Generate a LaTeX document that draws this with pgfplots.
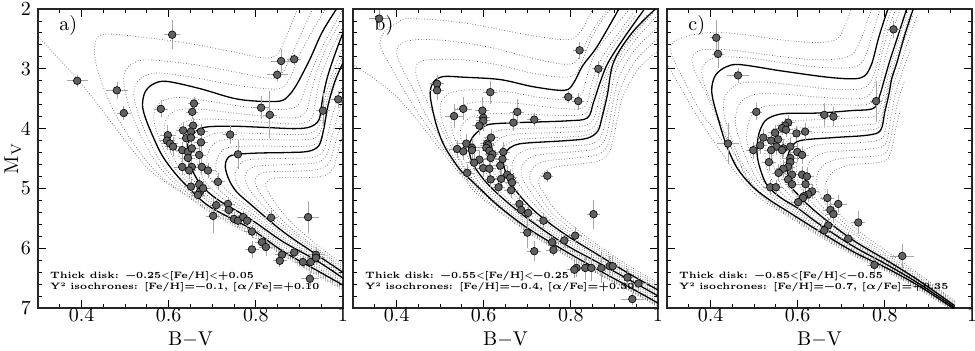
\documentclass[border=0pt]{standalone}
\usepackage{fontspec}
\usepackage{pgfplots}
\pgfplotsset{compat=1.18}
\usepackage{pgfplotstable}

\pgfplotstableread{
x y ex ey
0.390 3.20 0.018 0.06
0.608 2.43 0.012 0.20
0.481 3.36 0.020 0.10
0.497 3.74 0.010 0.08
0.582 3.67 0.010 0.10
0.858 2.87 0.018 0.15
0.849 3.10 0.018 0.06
0.888 2.84 0.010 0.05
0.812 3.65 0.012 0.15
0.832 3.77 0.010 0.35
0.954 3.70 0.010 0.25
0.989 3.51 0.010 0.10
0.741 4.10 0.010 0.12
0.759 4.43 0.010 0.20
0.658 3.58 0.008 0.06
0.654 3.72 0.008 0.08
0.656 3.95 0.008 0.08
0.674 4.05 0.010 0.08
0.633 4.03 0.010 0.10
0.651 4.05 0.010 0.08
0.598 4.11 0.012 0.12
0.640 4.16 0.010 0.10
0.651 4.15 0.010 0.08
0.674 4.23 0.010 0.10
0.596 4.20 0.012 0.12
0.603 4.25 0.012 0.12
0.610 4.30 0.012 0.12
0.631 4.36 0.010 0.10
0.644 4.39 0.010 0.10
0.653 4.33 0.010 0.10
0.670 4.44 0.010 0.10
0.644 4.49 0.010 0.10
0.631 4.64 0.010 0.10
0.653 4.64 0.010 0.10
0.647 4.70 0.010 0.10
0.676 4.64 0.012 0.10
0.690 4.70 0.012 0.08
0.713 4.89 0.010 0.10
0.651 4.97 0.010 0.08
0.670 4.93 0.010 0.08
0.672 5.05 0.010 0.08
0.667 5.11 0.010 0.08
0.679 5.00 0.010 0.08
0.709 5.28 0.010 0.08
0.736 5.26 0.010 0.08
0.738 5.36 0.010 0.08
0.702 5.46 0.010 0.25
0.750 5.51 0.010 0.06
0.759 5.54 0.010 0.06
0.771 5.48 0.010 0.06
0.780 5.54 0.010 0.06
0.791 5.72 0.010 0.06
0.835 5.49 0.010 0.08
0.920 5.48 0.020 0.22
0.814 5.90 0.010 0.06
0.823 5.98 0.010 0.10
0.791 6.02 0.010 0.10
0.860 6.11 0.010 0.06
0.855 6.21 0.010 0.06
0.888 6.07 0.010 0.06
0.908 6.23 0.010 0.06
0.926 6.23 0.010 0.06
0.938 6.11 0.015 0.08
0.938 6.16 0.015 0.08
0.924 6.51 0.015 0.08
}\dataA

\pgfplotstableread{
x y ex ey
0.360 2.16 0.018 0.10
0.493 3.25 0.010 0.10
0.493 3.36 0.010 0.12
0.615 3.39 0.010 0.15
0.820 2.69 0.008 0.10
0.863 3.00 0.008 0.08
0.794 3.47 0.008 0.06
0.817 3.54 0.008 0.10
0.553 3.67 0.015 0.15
0.532 3.79 0.015 0.15
0.597 3.70 0.010 0.18
0.599 3.82 0.010 0.15
0.599 3.87 0.010 0.12
0.590 3.95 0.010 0.12
0.677 3.72 0.010 0.18
0.668 3.90 0.010 0.10
0.716 3.85 0.010 0.06
0.617 4.15 0.010 0.10
0.608 4.25 0.010 0.10
0.610 4.28 0.010 0.10
0.606 4.32 0.010 0.10
0.613 4.37 0.010 0.10
0.620 4.43 0.010 0.10
0.616 4.49 0.010 0.10
0.560 4.25 0.012 0.12
0.573 4.32 0.012 0.12
0.573 4.36 0.012 0.12
0.539 4.34 0.012 0.10
0.553 4.38 0.012 0.10
0.645 4.39 0.010 0.12
0.643 4.51 0.010 0.12
0.638 4.62 0.010 0.10
0.590 4.52 0.012 0.10
0.578 4.57 0.012 0.10
0.599 4.66 0.010 0.10
0.613 4.67 0.010 0.10
0.562 4.74 0.012 0.10
0.654 4.77 0.010 0.10
0.661 4.82 0.010 0.10
0.640 4.84 0.010 0.10
0.616 4.85 0.010 0.10
0.634 4.98 0.010 0.10
0.665 4.90 0.010 0.10
0.663 5.03 0.010 0.08
0.746 4.79 0.008 0.06
0.682 5.26 0.010 0.10
0.686 5.36 0.010 0.08
0.702 5.41 0.010 0.08
0.737 5.54 0.010 0.08
0.700 5.74 0.010 0.22
0.716 6.05 0.010 0.12
0.757 5.90 0.010 0.06
0.760 6.03 0.010 0.06
0.785 5.87 0.010 0.06
0.810 5.79 0.010 0.10
0.852 5.43 0.008 0.20
0.813 6.33 0.010 0.10
0.808 6.36 0.010 0.10
0.833 6.33 0.010 0.15
0.847 6.33 0.010 0.18
0.870 6.33 0.010 0.20
0.889 6.30 0.010 0.12
0.896 6.30 0.010 0.12
0.930 6.49 0.010 0.10
0.955 6.59 0.020 0.10
0.941 6.85 0.020 0.05
}\dataB

\pgfplotstableread{
x y ex ey
0.413 2.48 0.008 0.25
0.417 2.75 0.008 0.20
0.463 3.11 0.020 0.08
0.820 2.34 0.010 0.10
0.505 3.72 0.008 0.10
0.440 4.25 0.020 0.30
0.661 3.77 0.008 0.15
0.682 3.80 0.008 0.12
0.780 3.54 0.008 0.30
0.578 3.90 0.010 0.08
0.571 3.95 0.010 0.08
0.564 3.99 0.010 0.08
0.573 4.02 0.010 0.08
0.548 4.07 0.010 0.08
0.597 4.08 0.010 0.08
0.617 4.05 0.010 0.10
0.521 4.15 0.010 0.10
0.539 4.20 0.010 0.10
0.555 4.18 0.010 0.10
0.514 4.28 0.010 0.10
0.498 4.36 0.010 0.10
0.551 4.30 0.010 0.10
0.567 4.33 0.010 0.10
0.583 4.30 0.010 0.10
0.539 4.36 0.010 0.10
0.564 4.36 0.010 0.10
0.599 4.39 0.010 0.10
0.610 4.44 0.010 0.10
0.583 4.49 0.010 0.10
0.534 4.56 0.010 0.10
0.583 4.56 0.010 0.10
0.578 4.64 0.010 0.10
0.567 4.67 0.010 0.10
0.556 4.74 0.010 0.10
0.587 4.77 0.010 0.10
0.610 4.77 0.010 0.10
0.621 4.80 0.010 0.10
0.578 4.85 0.010 0.10
0.587 4.93 0.010 0.10
0.618 4.93 0.010 0.10
0.537 4.98 0.010 0.08
0.550 4.98 0.010 0.08
0.633 5.05 0.010 0.08
0.624 5.10 0.010 0.08
0.614 5.13 0.010 0.08
0.612 5.16 0.010 0.08
0.601 5.23 0.010 0.08
0.668 5.16 0.010 0.10
0.693 5.26 0.015 0.10
0.675 5.36 0.010 0.10
0.682 5.43 0.010 0.10
0.739 5.57 0.010 0.15
0.670 5.62 0.010 0.08
0.661 5.70 0.010 0.08
0.716 5.84 0.010 0.06
0.840 6.13 0.020 0.15
0.776 6.28 0.010 0.10
}\dataC

\pgfplotsset{
  cmd/.style={
    scale only axis, width=152.5pt, height=149.5pt,
    xmin=0.3, xmax=1, ymin=2, ymax=7, y dir=reverse,
    xtick={0.4,0.6,0.8,1},
    minor xtick={0.35,0.45,0.5,0.55,0.65,0.7,0.75,0.85,0.9,0.95},
    ytick={2,3,4,5,6,7}, minor y tick num=4,
    tick align=inside, major tick length=4pt, minor tick length=2pt,
    every tick/.style={black, line width=0.45pt},
    axis line style={line width=0.8pt, black!85},
    xlabel={B$-$V},
    every axis x label/.style={at={(axis description cs:0.5,-0.105)}, anchor=center, inner sep=0pt},
    every axis y label/.style={at={(axis description cs:-0.082,0.5)}, rotate=90, anchor=center},
    xticklabel style={yshift=1pt, inner sep=1pt},
    tick label style={font=\normalsize},
    anchor=south west,
  },
  iso/.style={black!62, densely dotted, line width=0.35pt, smooth, tension=0.55, mark=none},
  isos/.style={black, solid, line width=0.65pt, smooth, tension=0.55, mark=none},
  stars/.style={only marks, mark=*, mark size=1.9pt,
    mark options={fill=black!62, draw=black, line width=0.3pt},
    error bars/x dir=both, error bars/x explicit,
    error bars/y dir=both, error bars/y explicit,
    error bars/error bar style={gray!70, line width=0.35pt},
    error bars/error mark options={gray!70, mark size=1.3pt, line width=0.35pt}},
}
\tikzset{note/.style={anchor=west, align=left, inner sep=0pt, font=\fontsize{4.65}{5.9}\selectfont\bfseries\boldmath}}

\begin{document}
\begin{tikzpicture}
\path[use as bounding box] (0,0) rectangle (487.5pt,175pt);

% ---------------- panel a ----------------
\begin{axis}[cmd, at={(19pt,21pt)}, ylabel={$\mathrm{M_V}$}]
\addplot[iso] coordinates {(1.02,6.78)(0.94,6.45)(0.862,6.12)(0.787,5.78)(0.70,5.42)(0.64,5.12)(0.59,4.88)(0.55,4.65)(0.50,4.20)(0.45,3.72)(0.40,3.25)(0.35,2.85)(0.30,2.45)(0.27,2.20)};
\addplot[iso] coordinates {(1.02,6.76)(0.94,6.43)(0.862,6.10)(0.787,5.75)(0.70,5.40)(0.64,5.10)(0.59,4.85)(0.55,4.55)(0.51,4.15)(0.47,3.65)(0.44,3.10)(0.43,2.75)(0.435,2.50)(0.46,2.42)(0.55,2.48)(0.65,2.58)(0.75,2.72)(0.82,2.82)(0.85,2.75)(0.87,2.45)(0.89,2.10)(0.90,1.95)};
\addplot[iso] coordinates {(1.02,6.74)(0.94,6.41)(0.862,6.08)(0.787,5.72)(0.70,5.37)(0.64,5.06)(0.60,4.82)(0.565,4.50)(0.535,4.10)(0.51,3.65)(0.497,3.25)(0.50,3.05)(0.515,2.92)(0.55,2.85)(0.65,2.92)(0.75,3.05)(0.82,3.15)(0.855,3.12)(0.88,2.80)(0.905,2.40)(0.93,2.00)};
\addplot[iso] coordinates {(1.02,6.72)(0.94,6.39)(0.862,6.07)(0.787,5.70)(0.70,5.34)(0.645,5.04)(0.605,4.78)(0.575,4.48)(0.55,4.12)(0.53,3.75)(0.52,3.45)(0.525,3.25)(0.545,3.12)(0.58,3.07)(0.66,3.15)(0.75,3.27)(0.82,3.33)(0.86,3.32)(0.882,3.10)(0.905,2.70)(0.935,2.30)(0.96,2.00)};
\addplot[iso] coordinates {(1.02,6.68)(0.94,6.33)(0.862,6.01)(0.787,5.63)(0.70,5.27)(0.655,4.98)(0.62,4.72)(0.592,4.40)(0.575,4.10)(0.566,3.85)(0.57,3.65)(0.59,3.52)(0.63,3.48)(0.70,3.55)(0.78,3.64)(0.86,3.68)(0.895,3.62)(0.91,3.40)(0.93,3.00)(0.955,2.60)(0.985,2.20)(1.0,2.0)};
\addplot[iso] coordinates {(1.02,6.66)(0.94,6.30)(0.862,5.97)(0.787,5.59)(0.70,5.23)(0.66,4.96)(0.628,4.70)(0.605,4.40)(0.592,4.15)(0.59,3.95)(0.60,3.78)(0.625,3.68)(0.68,3.68)(0.75,3.74)(0.83,3.80)(0.89,3.82)(0.915,3.72)(0.925,3.45)(0.94,3.05)(0.965,2.60)(0.995,2.20)};
\addplot[iso] coordinates {(1.02,6.63)(0.94,6.26)(0.862,5.93)(0.787,5.55)(0.705,5.21)(0.665,4.94)(0.638,4.66)(0.62,4.40)(0.614,4.20)(0.62,4.00)(0.64,3.88)(0.68,3.84)(0.75,3.86)(0.83,3.90)(0.90,3.92)(0.928,3.82)(0.938,3.50)(0.95,3.10)(0.975,2.65)(1.0,2.30)};
\addplot[iso] coordinates {(1.02,6.58)(0.94,6.19)(0.862,5.85)(0.787,5.45)(0.72,5.15)(0.685,4.90)(0.668,4.65)(0.664,4.45)(0.67,4.25)(0.69,4.12)(0.72,4.07)(0.80,4.08)(0.88,4.10)(0.925,4.08)(0.945,3.95)(0.955,3.60)(0.97,3.20)(0.99,2.80)(1.01,2.50)};
\addplot[iso] coordinates {(1.02,6.56)(0.94,6.16)(0.862,5.81)(0.787,5.40)(0.73,5.12)(0.70,4.88)(0.688,4.65)(0.69,4.42)(0.70,4.28)(0.725,4.19)(0.80,4.18)(0.88,4.19)(0.93,4.17)(0.948,4.05)(0.958,3.70)(0.972,3.30)(0.995,2.85)(1.01,2.60)};
\addplot[iso] coordinates {(1.02,6.53)(0.94,6.13)(0.862,5.76)(0.787,5.33)(0.74,5.08)(0.715,4.86)(0.708,4.62)(0.715,4.45)(0.735,4.32)(0.80,4.29)(0.88,4.30)(0.93,4.28)(0.95,4.15)(0.96,3.80)(0.975,3.40)(0.998,2.95)(1.01,2.75)};
\addplot[iso] coordinates {(1.02,6.47)(0.94,6.07)(0.862,5.66)(0.80,5.28)(0.765,5.02)(0.752,4.80)(0.76,4.62)(0.785,4.52)(0.86,4.50)(0.93,4.48)(0.955,4.38)(0.965,4.10)(0.975,3.80)(0.99,3.45)(1.01,3.10)};
\addplot[iso] coordinates {(1.02,6.44)(0.94,6.03)(0.862,5.61)(0.815,5.28)(0.785,5.02)(0.775,4.82)(0.785,4.68)(0.81,4.62)(0.88,4.60)(0.94,4.57)(0.962,4.45)(0.972,4.20)(0.985,3.85)(1.0,3.50)(1.02,3.20)};
\addplot[iso] coordinates {(1.02,6.41)(0.94,6.00)(0.87,5.60)(0.83,5.28)(0.805,5.02)(0.798,4.86)(0.81,4.75)(0.835,4.72)(0.90,4.71)(0.95,4.67)(0.97,4.55)(0.98,4.30)(0.995,3.95)(1.015,3.60)};
\addplot[iso] coordinates {(1.02,6.38)(0.95,6.00)(0.885,5.60)(0.85,5.30)(0.828,5.05)(0.823,4.92)(0.835,4.84)(0.86,4.82)(0.92,4.82)(0.96,4.78)(0.978,4.65)(0.988,4.40)(1.0,4.10)(1.02,3.80)};
\addplot[isos] coordinates {(1.02,6.70)(0.94,6.37)(0.862,6.05)(0.787,5.67)(0.695,5.31)(0.65,5.02)(0.615,4.75)(0.585,4.45)(0.565,4.15)(0.548,3.85)(0.540,3.62)(0.545,3.40)(0.563,3.26)(0.595,3.21)(0.671,3.33)(0.747,3.49)(0.80,3.54)(0.855,3.54)(0.875,3.45)(0.894,3.26)(0.924,2.84)(0.952,2.39)(0.985,2.0)(0.99,1.95)};
\addplot[isos] coordinates {(1.02,6.60)(0.94,6.21)(0.862,5.89)(0.787,5.51)(0.711,5.18)(0.672,4.92)(0.650,4.62)(0.643,4.35)(0.648,4.18)(0.665,4.03)(0.690,3.97)(0.75,3.96)(0.82,3.98)(0.89,4.00)(0.925,3.97)(0.945,3.85)(0.952,3.55)(0.962,3.20)(0.977,2.85)(1.0,2.40)(1.02,2.10)};
\addplot[isos] coordinates {(1.02,6.50)(0.94,6.11)(0.862,5.72)(0.787,5.26)(0.755,5.05)(0.738,4.85)(0.730,4.65)(0.733,4.52)(0.748,4.44)(0.80,4.41)(0.87,4.40)(0.92,4.38)(0.945,4.28)(0.956,4.00)(0.966,3.60)(0.982,3.20)(1.0,2.90)(1.02,2.60)};
\addplot[stars] table[x=x, y=y, x error=ex, y error=ey] {\dataA};
\node[anchor=west, font=\normalsize] at (axis cs:0.333,2.27) {a)};
\node[note] at (axis cs:0.327,6.56) {Thick disk: −0.25<[Fe/H]<+0.05\\Y² isochrones: [Fe/H]=−0.1, [$\alpha$/Fe]=+0.10};
\end{axis}

% ---------------- panel b ----------------
\begin{axis}[cmd, at={(176.5pt,21pt)}, yticklabels={}]
\addplot[iso] coordinates {(1.02,7.06)(0.937,6.72)(0.86,6.42)(0.783,6.10)(0.70,5.73)(0.63,5.36)(0.58,5.06)(0.553,4.82)(0.50,4.35)(0.45,3.88)(0.40,3.47)(0.35,3.17)(0.30,2.93)(0.27,2.75)};
\addplot[iso] coordinates {(1.02,7.05)(0.937,6.71)(0.86,6.41)(0.783,6.09)(0.70,5.71)(0.63,5.34)(0.585,5.05)(0.555,4.80)(0.505,4.32)(0.46,3.85)(0.42,3.40)(0.39,3.00)(0.37,2.75)(0.362,2.58)(0.372,2.38)(0.40,2.24)(0.43,2.16)(0.553,2.23)(0.707,2.44)(0.795,2.51)(0.825,2.35)(0.843,2.10)(0.855,1.95)};
\addplot[iso] coordinates {(1.02,7.04)(0.937,6.70)(0.86,6.40)(0.783,6.07)(0.70,5.69)(0.635,5.32)(0.59,5.03)(0.56,4.78)(0.515,4.30)(0.47,3.80)(0.435,3.30)(0.41,2.95)(0.40,2.72)(0.41,2.58)(0.45,2.51)(0.53,2.54)(0.62,2.65)(0.71,2.82)(0.78,2.92)(0.812,2.88)(0.832,2.60)(0.855,2.30)(0.885,2.00)};
\addplot[iso] coordinates {(1.02,7.02)(0.937,6.68)(0.86,6.38)(0.783,6.05)(0.70,5.68)(0.635,5.31)(0.59,5.01)(0.563,4.76)(0.525,4.30)(0.49,3.82)(0.46,3.40)(0.445,3.10)(0.447,2.93)(0.47,2.85)(0.55,2.85)(0.63,2.93)(0.71,3.07)(0.78,3.14)(0.812,3.08)(0.83,2.80)(0.85,2.45)(0.88,2.10)(0.90,1.95)};
\addplot[iso] coordinates {(1.02,6.98)(0.937,6.63)(0.86,6.31)(0.783,5.99)(0.70,5.61)(0.63,5.24)(0.59,4.97)(0.562,4.72)(0.53,4.30)(0.508,3.95)(0.50,3.70)(0.505,3.52)(0.525,3.40)(0.57,3.35)(0.65,3.38)(0.73,3.48)(0.80,3.52)(0.825,3.42)(0.838,3.10)(0.855,2.75)(0.89,2.40)(0.935,2.00)};
\addplot[iso] coordinates {(1.02,6.95)(0.937,6.60)(0.86,6.28)(0.783,5.97)(0.70,5.58)(0.635,5.22)(0.595,4.95)(0.57,4.70)(0.545,4.35)(0.53,4.10)(0.525,3.90)(0.532,3.72)(0.555,3.60)(0.60,3.55)(0.68,3.58)(0.76,3.65)(0.82,3.67)(0.838,3.55)(0.848,3.25)(0.865,2.90)(0.90,2.50)(0.945,2.05)};
\addplot[iso] coordinates {(1.02,6.92)(0.937,6.57)(0.86,6.26)(0.783,5.95)(0.70,5.54)(0.637,5.18)(0.598,4.90)(0.573,4.62)(0.555,4.32)(0.546,4.10)(0.552,3.92)(0.575,3.80)(0.62,3.75)(0.70,3.76)(0.78,3.78)(0.83,3.76)(0.845,3.62)(0.855,3.35)(0.87,3.00)(0.90,2.60)(0.95,2.10)};
\addplot[iso] coordinates {(1.02,6.85)(0.937,6.51)(0.86,6.19)(0.783,5.87)(0.70,5.47)(0.65,5.15)(0.615,4.85)(0.595,4.58)(0.59,4.38)(0.60,4.20)(0.625,4.05)(0.68,4.00)(0.79,3.98)(0.84,3.93)(0.857,3.75)(0.868,3.40)(0.885,3.00)(0.92,2.60)(0.975,2.10)};
\addplot[iso] coordinates {(1.02,6.83)(0.937,6.49)(0.86,6.16)(0.783,5.83)(0.71,5.45)(0.663,5.13)(0.633,4.85)(0.615,4.60)(0.612,4.42)(0.625,4.24)(0.65,4.12)(0.70,4.08)(0.79,4.06)(0.842,4.02)(0.862,3.85)(0.872,3.50)(0.888,3.05)(0.925,2.60)(0.98,2.10)};
\addplot[iso] coordinates {(1.02,6.80)(0.937,6.46)(0.86,6.13)(0.783,5.79)(0.715,5.42)(0.67,5.10)(0.643,4.82)(0.63,4.60)(0.63,4.45)(0.645,4.30)(0.675,4.19)(0.72,4.16)(0.79,4.14)(0.84,4.10)(0.865,3.95)(0.876,3.60)(0.892,3.10)(0.93,2.60)(0.99,2.05)};
\addplot[iso] coordinates {(1.02,6.75)(0.937,6.41)(0.86,6.06)(0.783,5.70)(0.73,5.38)(0.695,5.08)(0.672,4.82)(0.665,4.62)(0.675,4.45)(0.70,4.35)(0.75,4.31)(0.80,4.29)(0.85,4.25)(0.87,4.12)(0.88,3.85)(0.89,3.50)(0.905,3.00)(0.95,2.50)(1.0,2.10)};
\addplot[iso] coordinates {(1.02,6.72)(0.937,6.38)(0.86,6.02)(0.783,5.65)(0.74,5.37)(0.71,5.08)(0.69,4.85)(0.686,4.68)(0.697,4.53)(0.725,4.44)(0.80,4.39)(0.855,4.34)(0.877,4.20)(0.887,3.95)(0.896,3.60)(0.91,3.15)(0.945,2.70)(1.0,2.3)};
\addplot[iso] coordinates {(1.02,6.69)(0.937,6.35)(0.86,5.98)(0.79,5.62)(0.75,5.36)(0.725,5.08)(0.708,4.90)(0.706,4.76)(0.718,4.62)(0.745,4.54)(0.81,4.49)(0.86,4.44)(0.883,4.30)(0.893,4.05)(0.902,3.70)(0.915,3.30)(0.95,2.85)(1.0,2.5)};
\addplot[iso] coordinates {(1.02,6.66)(0.937,6.31)(0.86,5.94)(0.80,5.60)(0.762,5.34)(0.74,5.10)(0.728,4.96)(0.727,4.84)(0.74,4.72)(0.765,4.64)(0.82,4.59)(0.865,4.54)(0.888,4.40)(0.898,4.15)(0.908,3.80)(0.92,3.45)(0.955,3.0)(1.0,2.7)};
\addplot[isos] coordinates {(1.02,7.00)(0.937,6.66)(0.86,6.35)(0.783,6.03)(0.70,5.66)(0.635,5.30)(0.595,5.03)(0.569,4.85)(0.546,4.69)(0.511,4.31)(0.493,3.98)(0.482,3.66)(0.477,3.40)(0.485,3.22)(0.507,3.13)(0.553,3.14)(0.638,3.18)(0.714,3.30)(0.785,3.36)(0.806,3.24)(0.827,2.95)(0.861,2.62)(0.914,1.95)};
\addplot[isos] coordinates {(1.02,6.88)(0.937,6.54)(0.86,6.23)(0.783,5.92)(0.70,5.50)(0.638,5.13)(0.60,4.85)(0.574,4.57)(0.566,4.31)(0.575,4.14)(0.592,4.02)(0.612,3.93)(0.677,3.90)(0.792,3.87)(0.838,3.82)(0.852,3.56)(0.868,3.21)(0.886,2.89)(0.925,2.45)(0.967,2.02)};
\addplot[isos] coordinates {(1.02,6.78)(0.937,6.44)(0.86,6.10)(0.783,5.75)(0.72,5.40)(0.677,5.07)(0.654,4.80)(0.645,4.55)(0.652,4.38)(0.67,4.28)(0.70,4.24)(0.792,4.20)(0.838,4.16)(0.862,4.04)(0.872,3.80)(0.884,3.43)(0.898,2.89)(0.94,2.40)(0.994,2.00)};
\addplot[stars] table[x=x, y=y, x error=ex, y error=ey] {\dataB};
\node[anchor=west, font=\normalsize] at (axis cs:0.333,2.27) {b)};
\node[note] at (axis cs:0.327,6.56) {Thick disk: −0.55<[Fe/H]<−0.25\\Y² isochrones: [Fe/H]=−0.4, [$\alpha$/Fe]=+0.30};
\end{axis}

% ---------------- panel c ----------------
\begin{axis}[cmd, at={(333.5pt,21pt)}, yticklabels={}]
\addplot[iso] coordinates {(0.96,7.06)(0.88,6.70)(0.806,6.40)(0.728,6.12)(0.65,5.80)(0.576,5.46)(0.52,5.20)(0.47,4.85)(0.42,4.35)(0.37,3.80)(0.33,3.30)(0.30,2.90)(0.28,2.60)};
\addplot[iso] coordinates {(0.96,7.05)(0.88,6.68)(0.806,6.38)(0.728,6.10)(0.65,5.78)(0.576,5.44)(0.525,5.18)(0.48,4.85)(0.45,4.48)(0.415,4.08)(0.376,3.70)(0.337,3.16)(0.31,2.75)(0.315,2.55)(0.36,2.43)(0.415,2.39)(0.49,2.44)(0.567,2.52)(0.645,2.56)(0.69,2.50)(0.71,2.25)(0.728,1.90)};
\addplot[iso] coordinates {(0.96,7.04)(0.88,6.67)(0.806,6.37)(0.728,6.09)(0.65,5.76)(0.576,5.42)(0.53,5.20)(0.49,4.90)(0.46,4.50)(0.425,4.00)(0.395,3.50)(0.365,3.05)(0.358,2.80)(0.383,2.68)(0.452,2.69)(0.567,2.80)(0.659,2.85)(0.721,2.78)(0.745,2.50)(0.76,2.20)(0.775,1.90)};
\addplot[iso] coordinates {(0.96,7.03)(0.88,6.66)(0.806,6.36)(0.728,6.08)(0.65,5.74)(0.576,5.40)(0.535,5.20)(0.495,4.92)(0.465,4.55)(0.432,4.05)(0.405,3.60)(0.385,3.25)(0.38,3.02)(0.395,2.86)(0.43,2.80)(0.50,2.83)(0.567,2.90)(0.66,2.98)(0.735,2.96)(0.757,2.75)(0.772,2.40)(0.787,2.05)(0.793,1.90)};
\addplot[iso] coordinates {(0.96,7.01)(0.88,6.63)(0.806,6.32)(0.728,6.04)(0.65,5.69)(0.58,5.35)(0.54,5.15)(0.505,4.92)(0.47,4.55)(0.447,4.15)(0.432,3.80)(0.43,3.55)(0.44,3.38)(0.465,3.25)(0.52,3.22)(0.60,3.28)(0.68,3.34)(0.748,3.33)(0.772,3.15)(0.788,2.75)(0.80,2.35)(0.815,2.00)};
\addplot[iso] coordinates {(0.96,7.00)(0.88,6.62)(0.806,6.31)(0.728,6.02)(0.65,5.66)(0.585,5.33)(0.545,5.12)(0.51,4.88)(0.482,4.50)(0.465,4.15)(0.457,3.90)(0.462,3.65)(0.478,3.50)(0.51,3.42)(0.58,3.43)(0.66,3.48)(0.74,3.50)(0.768,3.40)(0.782,3.10)(0.795,2.70)(0.81,2.30)(0.825,2.00)};
\addplot[iso] coordinates {(0.96,7.00)(0.88,6.61)(0.806,6.29)(0.728,5.99)(0.65,5.63)(0.59,5.32)(0.55,5.10)(0.518,4.85)(0.495,4.50)(0.483,4.18)(0.487,3.90)(0.50,3.72)(0.53,3.62)(0.60,3.60)(0.68,3.60)(0.755,3.60)(0.778,3.48)(0.79,3.20)(0.80,2.85)(0.815,2.45)(0.835,2.00)};
\addplot[iso] coordinates {(0.96,6.98)(0.88,6.58)(0.806,6.26)(0.728,5.94)(0.65,5.57)(0.605,5.31)(0.57,5.13)(0.545,4.92)(0.53,4.68)(0.525,4.45)(0.528,4.20)(0.545,4.00)(0.575,3.88)(0.65,3.85)(0.73,3.82)(0.78,3.78)(0.793,3.55)(0.803,3.25)(0.815,2.90)(0.835,2.45)(0.855,2.00)};
\addplot[iso] coordinates {(0.96,6.97)(0.88,6.57)(0.806,6.24)(0.728,5.91)(0.655,5.55)(0.61,5.29)(0.58,5.10)(0.56,4.92)(0.547,4.68)(0.543,4.48)(0.55,4.25)(0.567,4.08)(0.60,3.99)(0.67,3.97)(0.745,3.94)(0.785,3.90)(0.797,3.65)(0.807,3.30)(0.82,2.95)(0.84,2.50)(0.86,2.05)};
\addplot[iso] coordinates {(0.96,6.96)(0.88,6.56)(0.806,6.23)(0.728,5.89)(0.658,5.52)(0.615,5.27)(0.59,5.08)(0.572,4.92)(0.562,4.70)(0.56,4.50)(0.567,4.30)(0.585,4.15)(0.62,4.08)(0.68,4.06)(0.755,4.03)(0.787,3.97)(0.798,3.70)(0.808,3.35)(0.822,3.00)(0.843,2.55)(0.865,2.10)};
\addplot[iso] coordinates {(0.96,6.94)(0.88,6.53)(0.806,6.18)(0.728,5.83)(0.67,5.50)(0.635,5.25)(0.612,5.05)(0.60,4.85)(0.597,4.65)(0.605,4.45)(0.625,4.32)(0.66,4.26)(0.73,4.24)(0.79,4.18)(0.803,3.95)(0.81,3.60)(0.82,3.25)(0.835,2.95)(0.855,2.50)(0.875,2.1)};
\addplot[iso] coordinates {(0.96,6.92)(0.88,6.50)(0.806,6.15)(0.735,5.80)(0.68,5.48)(0.65,5.25)(0.63,5.05)(0.62,4.85)(0.623,4.62)(0.64,4.47)(0.67,4.39)(0.74,4.36)(0.795,4.30)(0.808,4.10)(0.815,3.75)(0.825,3.40)(0.84,3.05)(0.86,2.65)};
\addplot[iso] coordinates {(0.96,6.90)(0.88,6.47)(0.806,6.11)(0.74,5.78)(0.69,5.47)(0.663,5.25)(0.648,5.05)(0.642,4.90)(0.648,4.72)(0.665,4.58)(0.70,4.50)(0.76,4.47)(0.80,4.42)(0.812,4.20)(0.82,3.90)(0.83,3.55)(0.845,3.2)};
\addplot[iso] coordinates {(0.96,6.88)(0.88,6.44)(0.81,6.08)(0.75,5.77)(0.70,5.46)(0.677,5.25)(0.665,5.08)(0.663,4.95)(0.672,4.80)(0.69,4.68)(0.725,4.60)(0.77,4.58)(0.805,4.52)(0.817,4.30)(0.825,4.00)(0.835,3.70)};
\addplot[isos] coordinates {(0.96,7.02)(0.88,6.64)(0.806,6.34)(0.728,6.06)(0.65,5.72)(0.576,5.38)(0.537,5.20)(0.498,4.98)(0.461,4.66)(0.435,4.25)(0.418,3.85)(0.405,3.50)(0.403,3.30)(0.412,3.10)(0.435,2.97)(0.468,2.93)(0.567,3.04)(0.682,3.15)(0.745,3.15)(0.768,2.95)(0.785,2.50)(0.80,2.15)(0.812,1.90)};
\addplot[isos] coordinates {(0.96,6.99)(0.88,6.60)(0.806,6.28)(0.728,5.97)(0.65,5.60)(0.60,5.33)(0.56,5.15)(0.53,4.95)(0.515,4.70)(0.507,4.45)(0.508,4.20)(0.515,4.00)(0.53,3.84)(0.567,3.75)(0.645,3.74)(0.721,3.70)(0.774,3.66)(0.788,3.45)(0.80,3.15)(0.812,2.85)(0.83,2.45)(0.85,2.00)};
\addplot[isos] coordinates {(0.96,6.96)(0.88,6.55)(0.806,6.21)(0.728,5.87)(0.66,5.50)(0.62,5.25)(0.60,5.10)(0.583,4.95)(0.576,4.70)(0.576,4.50)(0.585,4.32)(0.606,4.20)(0.682,4.15)(0.760,4.11)(0.790,4.03)(0.80,3.72)(0.81,3.40)(0.816,3.16)(0.828,2.89)(0.845,2.45)(0.865,2.00)};
\addplot[stars] table[x=x, y=y, x error=ex, y error=ey] {\dataC};
\node[anchor=west, font=\normalsize] at (axis cs:0.333,2.27) {c)};
\node[note] at (axis cs:0.327,6.56) {Thick disk: −0.85<[Fe/H]<−0.55\\Y² isochrones: [Fe/H]=−0.7, [$\alpha$/Fe]=+0.35};
\end{axis}
\end{tikzpicture}
\end{document}
